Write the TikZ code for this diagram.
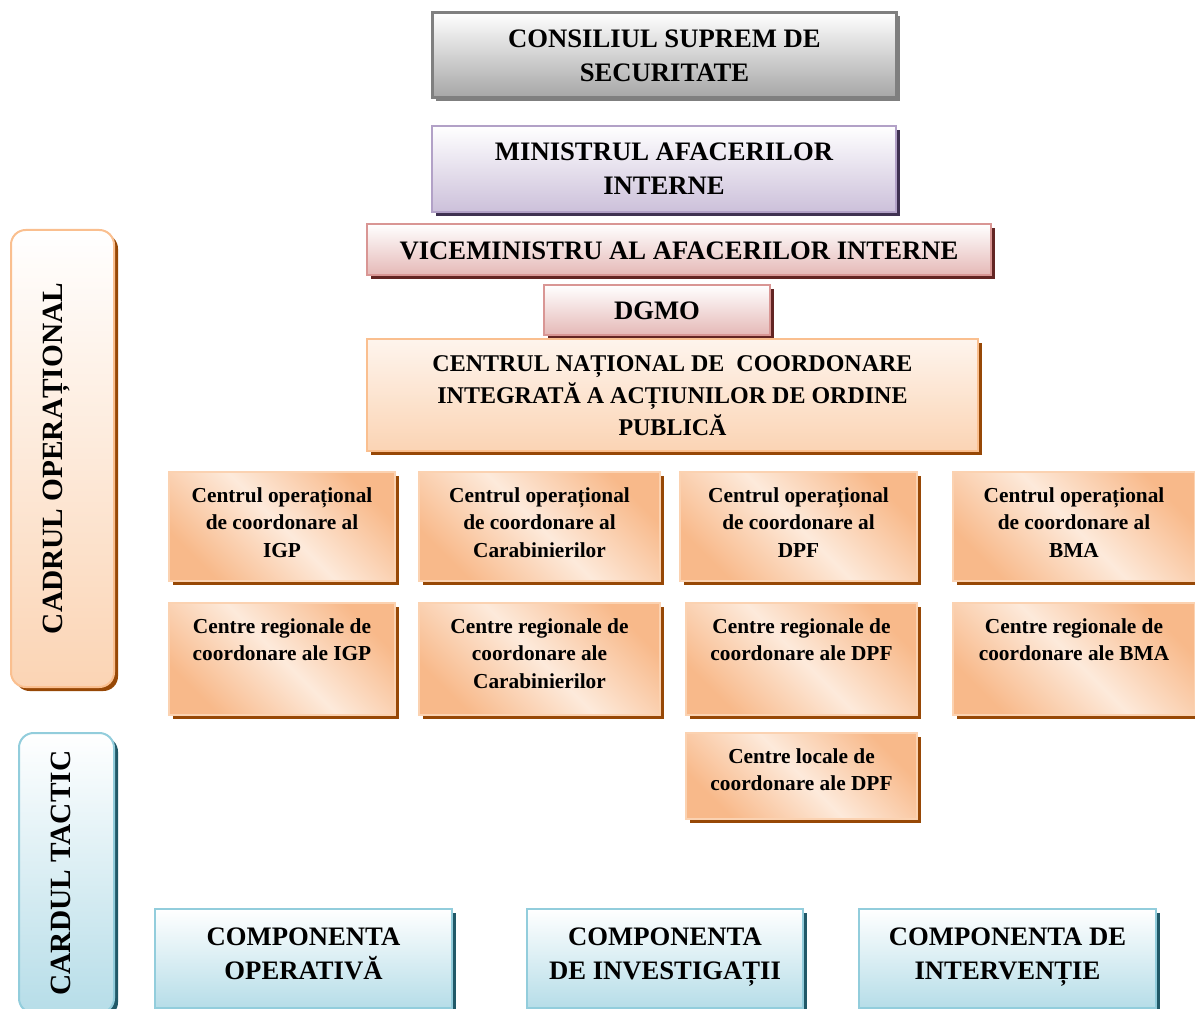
\documentclass[tikz,border=0pt]{standalone}
\usepackage{fontspec}
\setmainfont{Liberation Serif}
\usepackage{graphicx}
\usetikzlibrary{shadows}

\definecolor{grayline}{HTML}{7F7F7F}
\definecolor{grayend}{HTML}{A6A6A6}
\definecolor{lilacline}{HTML}{B2A1C7}
\definecolor{lilacend}{HTML}{CCC0DA}
\definecolor{lilacshade}{HTML}{3F3151}
\definecolor{roseline}{HTML}{D99694}
\definecolor{roseend}{HTML}{E5B9B7}
\definecolor{roseshade}{HTML}{632523}
\definecolor{peachline}{HTML}{FABF8F}
\definecolor{peachend}{HTML}{FBD4B4}
\definecolor{peachlite}{HTML}{FDEADB}
\definecolor{peachdeep}{HTML}{F8B98A}
\definecolor{brownshade}{HTML}{974806}
\definecolor{aqualine}{HTML}{92CDDC}
\definecolor{aquaend}{HTML}{B6DDE8}
\definecolor{tealshade}{HTML}{215968}

\newcommand{\boxlines}[1]{\begin{tabular}[t]{@{}c@{}}#1\end{tabular}}

\tikzset{
  unit/.style={anchor=north west, inner sep=0pt, line width=1.5pt},
  pbox/.style n args={3}{minimum width=#1*0.75pt, text height=#2*0.75pt, text depth=#3*0.75pt},
  big/.style={font=\bfseries\fontsize{20}{25.5}\selectfont},
  mid/.style={font=\bfseries\fontsize{18}{24}\selectfont},
  small/.style={font=\bfseries\fontsize{16}{20.6}\selectfont},
  side/.style={font=\bfseries\fontsize{22}{26}\selectfont},
  shade/.style={drop shadow={shadow xshift=3pt, shadow yshift=-3pt, fill=#1, opacity=1}},
  graybox/.style={unit, big, draw=grayline, line width=2.2pt, top color=white, bottom color=grayend, shade=grayline},
  lilacbox/.style={unit, big, draw=lilacline, top color=white, bottom color=lilacend, shade=lilacshade},
  rosebox/.style={unit, big, draw=roseline, top color=white, bottom color=roseend, shade=roseshade},
  natbox/.style={unit, mid, draw=peachline, top color=peachlite!50, bottom color=peachend, shade=brownshade},
  centrebox/.style={unit, small, draw=peachline!70, top color=peachdeep, bottom color=peachdeep,
    middle color=peachlite, shading angle=-45, shade=brownshade},
  compbox/.style={unit, big, draw=aqualine, top color=white, bottom color=aquaend, shade=tealshade},
  opbar/.style={unit, side, draw=peachline, rounded corners=11pt, top color=white, bottom color=peachend, shade=brownshade},
  tactbar/.style={unit, side, draw=aqualine, rounded corners=11pt, top color=white, bottom color=aquaend, shade=tealshade}
}

\begin{document}
\begin{tikzpicture}[x=0.75pt, y=-0.75pt]
  \useasboundingbox (0,0) rectangle (1195,1009);

  % conducere
  \node[graybox, pbox={464}{35}{50}] (css) at (431,11) {\boxlines{CONSILIUL SUPREM DE\\SECURITATE}};
  \node[lilacbox, pbox={464}{35}{51}] (mai) at (431,125) {\boxlines{MINISTRUL AFACERILOR\\INTERNE}};
  \node[rosebox, pbox={624}{35}{16}] (vice) at (366,223) {\boxlines{VICEMINISTRU AL AFACERILOR INTERNE}};
  \node[rosebox, pbox={226}{34}{16}] (dgmo) at (543,284) {\boxlines{DGMO}};
  \node[natbox, pbox={611}{32}{80}] (cnc) at (366,338)
    {\boxlines{CENTRUL NAȚIONAL DE\ \ COORDONARE\\INTEGRATĂ A ACȚIUNILOR DE ORDINE\\PUBLICĂ}};

  % centre operationale
  \node[centrebox, pbox={226}{30.5}{78.5}] (igpc) at (168,471) {\boxlines{Centrul operațional\\de coordonare al\\IGP}};
  \node[centrebox, pbox={241}{30.5}{78.5}] (carc) at (418,471) {\boxlines{Centrul operațional\\de coordonare al\\Carabinierilor}};
  \node[centrebox, pbox={237}{30.5}{78.5}] (dpfc) at (679,471) {\boxlines{Centrul operațional\\de coordonare al\\DPF}};
  \node[centrebox, pbox={242}{30.5}{78.5}] (bmac) at (952,471) {\boxlines{Centrul operațional\\de coordonare al\\BMA}};

  % centre regionale
  \node[centrebox, pbox={226}{30.5}{81.5}] (igpr) at (168,602) {\boxlines{Centre regionale de\\coordonare ale IGP}};
  \node[centrebox, pbox={241}{30.5}{81.5}] (carr) at (418,602) {\boxlines{Centre regionale de\\coordonare ale\\Carabinierilor}};
  \node[centrebox, pbox={231}{30.5}{81.5}] (dpfr) at (685,602) {\boxlines{Centre regionale de\\coordonare ale DPF}};
  \node[centrebox, pbox={242}{30.5}{81.5}] (bmar) at (952,602) {\boxlines{Centre regionale de\\coordonare ale BMA}};
  \node[centrebox, pbox={231}{30.5}{55.5}] (dpfl) at (685,732) {\boxlines{Centre locale de\\coordonare ale DPF}};

  % componente
  \node[compbox, pbox={297}{36}{63}] (compop) at (154,908) {\boxlines{COMPONENTA\\OPERATIVĂ}};
  \node[compbox, pbox={276}{36}{63}] (compinv) at (526,908) {\boxlines{COMPONENTA\\DE INVESTIGAȚII}};
  \node[compbox, pbox={297}{36}{63}] (compint) at (858,908) {\boxlines{COMPONENTA DE\\INTERVENȚIE}};

  % cadre
  \node[opbar, minimum width=103*0.75pt, minimum height=457*0.75pt] (opcad) at (10,229)
    {\rotatebox{90}{CADRUL OPERAȚIONAL}\hspace*{9.5pt}};
  \node[tactbar, minimum width=95*0.75pt, minimum height=280*0.75pt] (tactcad) at (18,732)
    {\rotatebox{90}{CARDUL TACTIC}\hspace*{8pt}};
\end{tikzpicture}
\end{document}
